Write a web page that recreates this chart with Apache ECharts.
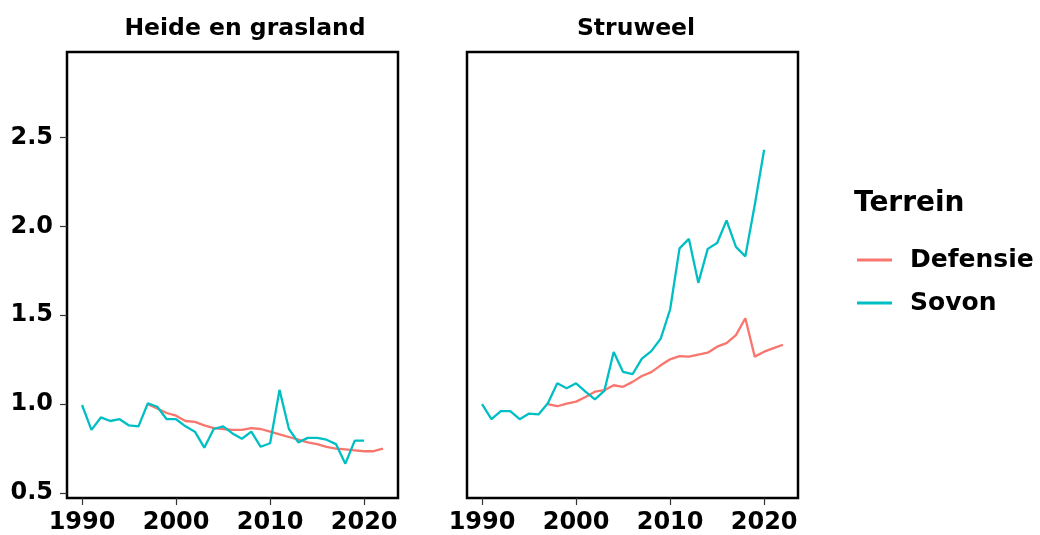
<!DOCTYPE html>
<html>
<head>
<meta charset="utf-8">
<script src="https://cdn.jsdelivr.net/npm/echarts@6/dist/echarts.min.js"></script>
<style>
html,body{margin:0;padding:0;background:#fff;}
#chart{width:1040px;height:535px;}
</style>
</head>
<body>
<div id="chart"></div>
<script>
// ---- Data ----
const panelTitles = ['Heide en grasland', 'Struweel'];
const seriesNames = ['Defensie', 'Sovon'];
const xTicks = [1990, 2000, 2010, 2020];
const yTicks = [0.5, 1.0, 1.5, 2.0, 2.5];

const yearsDefensie = [1997,1998,1999,2000,2001,2002,2003,2004,2005,2006,2007,2008,2009,2010,2011,2012,2013,2014,2015,2016,2017,2018,2019,2020,2021,2022];
const yearsSovon = [1990,1991,1992,1993,1994,1995,1996,1997,1998,1999,2000,2001,2002,2003,2004,2005,2006,2007,2008,2009,2010,2011,2012,2013,2014,2015,2016,2017,2018,2019,2020];

const heideDefensie = [1.0,0.975,0.95,0.935,0.905,0.9,0.88,0.865,0.86,0.855,0.855,0.865,0.86,0.845,0.83,0.815,0.8,0.785,0.775,0.76,0.75,0.745,0.74,0.735,0.735,0.75];
const heideSovon = [0.995,0.855,0.925,0.905,0.915,0.88,0.875,1.005,0.985,0.915,0.915,0.875,0.845,0.755,0.86,0.875,0.835,0.805,0.845,0.76,0.78,1.08,0.86,0.785,0.81,0.81,0.8,0.775,0.665,0.795,0.795];

const struweelDefensie = [1.0,0.988,1.003,1.014,1.04,1.07,1.078,1.106,1.097,1.125,1.158,1.18,1.218,1.252,1.27,1.267,1.278,1.289,1.323,1.343,1.388,1.483,1.267,1.295,1.315,1.334];
const struweelSovon = [1.0,0.915,0.96,0.96,0.915,0.947,0.942,1.005,1.117,1.089,1.117,1.07,1.027,1.074,1.293,1.181,1.168,1.256,1.298,1.368,1.532,1.876,1.929,1.682,1.873,1.906,2.033,1.884,1.831,2.12,2.43];

const colors = ['#F8766D', '#00BFC4'];

// ---- Chart ----
const FONT = 'DejaVu Sans';
const chart = echarts.init(document.getElementById('chart'), null, {renderer: 'canvas'});
const zip = (xs, ys) => xs.map((x, i) => [x, ys[i]]);

const grids = [
  {left: 67, top: 52, width: 331, height: 447},
  {left: 467, top: 52, width: 331, height: 447}
].map(g => Object.assign(g, {show: true, borderColor: '#000', borderWidth: 2.5, backgroundColor: 'transparent'}));

const xAxes = [0, 1].map(i => ({
  type: 'value', gridIndex: i, min: 1988.4, max: 2023.6,
  axisLine: {show: false},
  splitLine: {show: false},
  axisTick: {show: true, length: 7, lineStyle: {color: '#333', width: 1.2}, customValues: xTicks},
  axisLabel: {show: true, margin: 13, fontFamily: FONT, fontWeight: 'bold', fontSize: 24, color: '#000',
    customValues: xTicks, formatter: v => String(v)}
}));

const yAxes = [0, 1].map(i => ({
  type: 'value', gridIndex: i, min: 0.472, max: 2.98,
  axisLine: {show: false},
  splitLine: {show: false},
  axisTick: {show: i === 0, length: 7, lineStyle: {color: '#333', width: 1.2}, customValues: yTicks},
  axisLabel: {show: i === 0, margin: 14, fontFamily: FONT, fontWeight: 'bold', fontSize: 24, color: '#000',
    customValues: yTicks, formatter: v => v.toFixed(1)}
}));

const mk = (name, idx, data, color) => ({
  name, type: 'line', xAxisIndex: idx, yAxisIndex: idx, data,
  showSymbol: false, symbol: 'none', lineStyle: {color, width: 2.3}, itemStyle: {color},
  animation: false, silent: true
});

const series = [
  mk(seriesNames[0], 0, zip(yearsDefensie, heideDefensie), colors[0]),
  mk(seriesNames[1], 0, zip(yearsSovon, heideSovon), colors[1]),
  mk(seriesNames[0], 1, zip(yearsDefensie, struweelDefensie), colors[0]),
  mk(seriesNames[1], 1, zip(yearsSovon, struweelSovon), colors[1])
];

chart.setOption({
  animation: false,
  backgroundColor: '#fff',
  title: [
    {text: panelTitles[0], left: 240, top: 12, textAlign: 'center',
      textStyle: {fontFamily: FONT, fontWeight: 'bold', fontSize: 23.5, color: '#000'}},
    {text: panelTitles[1], left: 631, top: 12, textAlign: 'center',
      textStyle: {fontFamily: FONT, fontWeight: 'bold', fontSize: 23.5, color: '#000'}},
    {text: 'Terrein', left: 849, top: 185,
      textStyle: {fontFamily: FONT, fontWeight: 'bold', fontSize: 28, color: '#000'}}
  ],
  legend: {
    data: seriesNames, orient: 'vertical', left: 852, top: 240,
    icon: 'rect', itemWidth: 35, itemHeight: 3, itemGap: 13,
    textStyle: {fontFamily: FONT, fontWeight: 'bold', fontSize: 25, color: '#000', lineHeight: 30, padding: [0, 0, 0, 13]},
    selectedMode: false
  },
  grid: grids,
  xAxis: xAxes,
  yAxis: yAxes,
  series
});
</script>
</body>
</html>
